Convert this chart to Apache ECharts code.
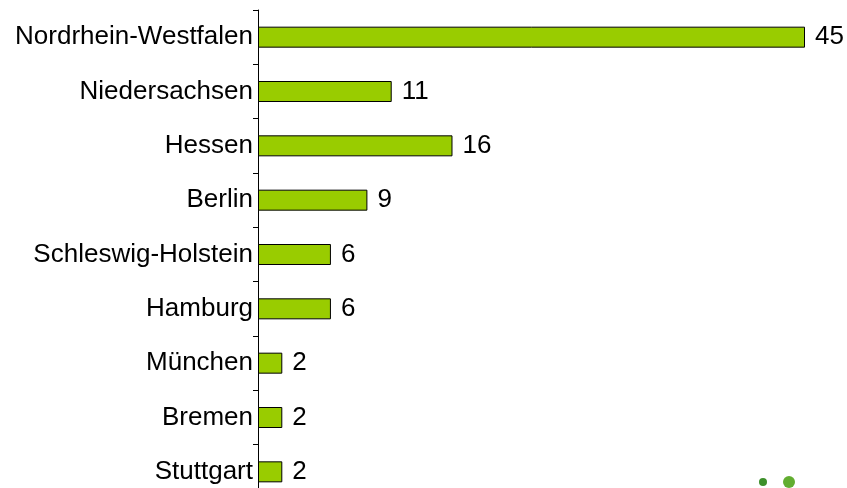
<!DOCTYPE html>
<html><head><meta charset="utf-8">
<script src="https://cdn.jsdelivr.net/npm/echarts@6/dist/echarts.min.js"></script>
<style>html,body{margin:0;padding:0;background:#fff;overflow:hidden;width:847px;height:488px}#c{width:847px;height:520px}</style>
</head><body><div id="c"></div>
<script>
const categories = ["Nordrhein-Westfalen","Niedersachsen","Hessen","Berlin","Schleswig-Holstein","Hamburg","München","Bremen","Stuttgart"];
const values = [45, 11, 16, 9, 6, 6, 2, 2, 2];

const chart = echarts.init(document.getElementById('c'));
chart.setOption({
  animation: false,
  grid: { left: 258, right: 42, top: 10, height: 489, containLabel: false },
  xAxis: { type: 'value', min: 0, max: 45, show: false },
  yAxis: {
    type: 'category', data: categories, inverse: true,
    axisLine: { show: true, lineStyle: { color: '#000', width: 1 } },
    axisTick: { show: true, length: 5, lineStyle: { color: '#000' } },
    axisLabel: { color: '#000', fontFamily: 'Liberation Sans, Arial, sans-serif', fontSize: 26, margin: 5 }
  },
  series: [{
    type: 'bar', data: values, barWidth: 21,
    itemStyle: { color: '#99CC00', borderColor: '#000', borderWidth: 1 },
    label: { show: true, position: 'right', distance: 10, color: '#000', fontFamily: 'Liberation Sans, Arial, sans-serif', fontSize: 26 }
  }],
  graphic: [
    { type: 'circle', shape: { cx: 763, cy: 482, r: 4 }, style: { fill: '#3d8f2a' } },
    { type: 'circle', shape: { cx: 789, cy: 482, r: 6 }, style: { fill: '#62ad30' } }
  ]
});
</script></body></html>
